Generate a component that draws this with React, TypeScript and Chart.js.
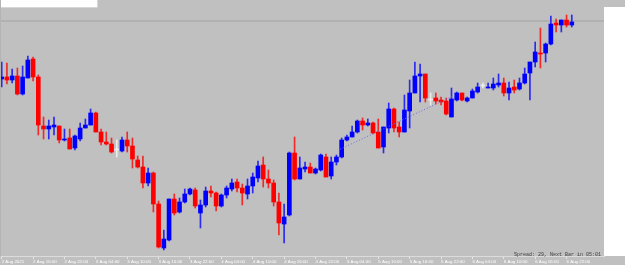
import React, { useEffect, useRef } from "react";
import { Chart, registerables } from "chart.js";

Chart.register(...registerables);

// Hourly bars, first bar = 2 Aug 10:00
const OPEN = [
  109.76, 109.78, 109.75, 109.79, 109.61, 109.77, 109.96, 109.78, 109.29, 109.26,
  109.28, 109.29, 109.15, 109.17, 109.07, 109.16, 109.27, 109.30, 109.42, 109.23,
  109.13, 109.11, 109.05, 109.04, 109.15, 109.09, 108.95, 108.88, 108.72, 108.82,
  108.51, 108.07, 108.15, 108.56, 108.43, 108.53, 108.61, 108.65, 108.42, 108.50,
  108.64, 108.62, 108.49, 108.60, 108.66, 108.73, 108.67, 108.61, 108.69, 108.77,
  108.90, 108.76, 108.72, 108.53, 108.31, 108.40, 109.02, 108.76, 108.86, 108.88,
  108.82, 108.85, 108.98, 108.79, 108.93, 108.98, 109.15, 109.18, 109.23, 109.34,
  109.30, 109.32, 109.23, 109.08, 109.27, 109.46, 109.28, 109.23, 109.44, 109.62,
  109.79, 109.81, 109.55, 109.57, 109.55, 109.54, 109.38, 109.55, 109.62, 109.54,
  109.57, 109.63, 109.69, 109.67, 109.67, 109.70, 109.72, 109.62, 109.68, 109.66,
  109.72, 109.82, 109.93, 110.02, 110.02, 110.11, 110.32, 110.30, 110.35, 110.30,
];
const HIGH = [
  109.93, 109.92, 109.86, 109.87, 109.89, 109.99, 109.98, 109.80, 109.38, 109.35,
  109.38, 109.29, 109.26, 109.26, 109.20, 109.32, 109.36, 109.46, 109.43, 109.26,
  109.23, 109.17, 109.15, 109.18, 109.23, 109.17, 108.99, 108.99, 108.87, 108.83,
  108.54, 108.25, 108.56, 108.61, 108.57, 108.66, 108.67, 108.67, 108.55, 108.68,
  108.69, 108.63, 108.61, 108.69, 108.76, 108.76, 108.71, 108.76, 108.82, 108.94,
  108.98, 108.85, 108.75, 108.62, 108.51, 109.03, 109.18, 108.98, 108.93, 108.92,
  108.87, 109.01, 109.01, 108.98, 109.00, 109.17, 109.20, 109.29, 109.35, 109.37,
  109.36, 109.33, 109.36, 109.28, 109.52, 109.47, 109.33, 109.60, 109.75, 109.93,
  109.91, 109.81, 109.62, 109.62, 109.58, 109.57, 109.67, 109.63, 109.62, 109.58,
  109.66, 109.72, 109.72, 109.72, 109.77, 109.81, 109.77, 109.73, 109.75, 109.77,
  109.87, 109.93, 110.13, 110.27, 110.12, 110.39, 110.36, 110.35, 110.40, 110.40,
];
const LOW = [
  109.68, 109.71, 109.72, 109.60, 109.60, 109.77, 109.74, 109.20, 109.16, 109.16,
  109.20, 109.12, 109.14, 109.06, 109.05, 109.14, 109.27, 109.30, 109.23, 109.10,
  109.10, 109.02, 108.98, 109.03, 109.03, 108.87, 108.87, 108.67, 108.69, 108.43,
  108.07, 108.05, 108.14, 108.40, 108.42, 108.52, 108.60, 108.47, 108.27, 108.48,
  108.58, 108.44, 108.48, 108.57, 108.64, 108.63, 108.50, 108.56, 108.62, 108.73,
  108.68, 108.67, 108.49, 108.20, 108.12, 108.39, 108.75, 108.76, 108.83, 108.82,
  108.81, 108.84, 108.78, 108.76, 108.90, 108.97, 109.14, 109.18, 109.22, 109.25,
  109.29, 109.21, 109.07, 109.02, 109.22, 109.23, 109.18, 109.23, 109.27, 109.62,
  109.53, 109.53, 109.50, 109.51, 109.50, 109.40, 109.38, 109.54, 109.54, 109.53,
  109.57, 109.62, 109.67, 109.67, 109.65, 109.68, 109.59, 109.55, 109.62, 109.65,
  109.71, 109.55, 109.88, 109.87, 109.93, 110.10, 110.23, 110.23, 110.28, 110.28,
];
const CLOSE = [
  109.78, 109.75, 109.79, 109.61, 109.78, 109.95, 109.78, 109.30, 109.26, 109.29,
  109.30, 109.15, 109.16, 109.06, 109.19, 109.27, 109.30, 109.42, 109.23, 109.13,
  109.11, 109.03, 109.05, 109.15, 109.09, 108.96, 108.88, 108.72, 108.82, 108.51,
  108.08, 108.16, 108.56, 108.42, 108.53, 108.61, 108.66, 108.49, 108.50, 108.64,
  108.62, 108.49, 108.60, 108.67, 108.72, 108.67, 108.62, 108.69, 108.78, 108.89,
  108.76, 108.72, 108.53, 108.32, 108.38, 109.02, 108.76, 108.87, 108.88, 108.82,
  108.86, 109.00, 108.78, 108.93, 108.98, 109.15, 109.18, 109.23, 109.34, 109.30,
  109.32, 109.22, 109.07, 109.28, 109.46, 109.27, 109.23, 109.45, 109.62, 109.79,
  109.81, 109.57, 109.55, 109.54, 109.53, 109.41, 109.56, 109.62, 109.55, 109.57,
  109.64, 109.68, 109.69, 109.68, 109.71, 109.72, 109.62, 109.67, 109.65, 109.72,
  109.81, 109.93, 110.03, 110.01, 110.11, 110.31, 110.30, 110.35, 110.30, 110.33,
];

const TICK_LABELS = [
  "2 Aug 2021", "2 Aug 16:00", "2 Aug 22:00", "3 Aug 04:00", "3 Aug 10:00",
  "3 Aug 16:00", "3 Aug 22:00", "4 Aug 04:00", "4 Aug 10:00", "4 Aug 16:00",
  "4 Aug 22:00", "5 Aug 04:00", "5 Aug 10:00", "5 Aug 16:00", "5 Aug 22:00",
  "6 Aug 04:00", "6 Aug 10:00", "6 Aug 16:00", "6 Aug 22:00",
];
const BARS_PER_LABEL = 6;

const BID_PRICE = 110.34;
const TREND_BAR = [64.68, 87.0];
const TREND_PRICE = [109.057, 109.607];
const SPREAD_TEXT = "Spread: 29, Next Bar in 05:01";

const X_MIN = -0.134;
const X_MAX = 115.16;
const Y_MIN = 107.99;
const Y_MAX = 110.55;

const BG = "#c0c0c0";
const BULL = "#0000ff";
const BEAR = "#ff0000";
const DOJI = "#ececec";

export default function App() {
  const ref = useRef<HTMLCanvasElement>(null);

  useEffect(() => {
    document.body.style.margin = "0";
    const idx = OPEN.map((_, i) => i);
    const colors = idx.map((i) =>
      CLOSE[i] > OPEN[i] ? BULL : CLOSE[i] < OPEN[i] ? BEAR : DOJI
    );
    const wickColors = idx.map((i) =>
      CLOSE[i] > OPEN[i] ? "#2a2af0" : CLOSE[i] < OPEN[i] ? "#f02a2a" : DOJI
    );

    const deco = {
      id: "deco",
      beforeDraw(c: any) {
        const ctx = c.ctx;
        const a = c.chartArea;
        ctx.save();
        ctx.fillStyle = BG;
        ctx.fillRect(0, 0, c.width, c.height);
        ctx.fillStyle = "#ffffff";
        ctx.fillRect(a.right, 7, c.width - a.right, a.bottom - 7);
        ctx.fillRect(0, 0, 97, 7);
        ctx.strokeStyle = "#d6d6d6";
        ctx.lineWidth = 1;
        ctx.beginPath();
        ctx.moveTo(97.5, 0);
        ctx.lineTo(97.5, 7.5);
        ctx.lineTo(0, 7.5);
        ctx.stroke();
        ctx.strokeStyle = "#b4b4b4";
        ctx.beginPath();
        ctx.moveTo(0.5, 0);
        ctx.lineTo(0.5, a.bottom);
        ctx.stroke();
        ctx.restore();
      },
      afterDraw(c: any) {
        const ctx = c.ctx;
        ctx.save();
        ctx.font = '5px "Liberation Mono", "DejaVu Sans Mono", monospace';
        ctx.fillStyle = "#3c3c3c";
        ctx.textAlign = "right";
        ctx.textBaseline = "alphabetic";
        ctx.fillText(SPREAD_TEXT, 601, 256);
        ctx.restore();
      },
    };

    const chart = new Chart(ref.current as HTMLCanvasElement, {
      type: "bar",
      data: {
        datasets: [
          {
            type: "line",
            data: TREND_BAR.map((x, k) => ({ x, y: TREND_PRICE[k] })),
            borderColor: "#6e6ee6",
            borderWidth: 1,
            borderDash: [1, 2],
            pointRadius: 0,
            order: 0,
          } as any,
          {
            type: "bar",
            data: idx.map((i) => ({ x: i, y: [OPEN[i], CLOSE[i]] })),
            backgroundColor: colors,
            borderWidth: 0,
            barThickness: 4,
            minBarLength: 1,
            grouped: false,
            order: 1,
          } as any,
          {
            type: "bar",
            data: idx.map((i) => ({ x: i, y: [LOW[i], HIGH[i]] })),
            backgroundColor: wickColors,
            borderWidth: 0,
            barThickness: 1,
            grouped: false,
            order: 2,
          } as any,
          {
            type: "line",
            data: [
              { x: X_MIN, y: BID_PRICE },
              { x: X_MAX, y: BID_PRICE },
            ],
            borderColor: "#a2a2a2",
            borderWidth: 1,
            pointRadius: 0,
            order: 3,
          } as any,
        ],
      },
      options: {
        animation: false,
        responsive: false,
        devicePixelRatio: 1,
        layout: { padding: { left: 1, right: 21, top: 0, bottom: 0 } },
        plugins: { legend: { display: false }, tooltip: { enabled: false } },
        scales: {
          x: {
            type: "linear",
            min: X_MIN,
            max: X_MAX,
            offset: false,
            afterBuildTicks: (scale: any) => {
              scale.ticks = TICK_LABELS.map((_, k) => ({ value: k * BARS_PER_LABEL }));
            },
            afterFit: (scale: any) => {
              scale.height = 9;
            },
            grid: {
              offset: false,
              drawOnChartArea: false,
              drawTicks: true,
              tickLength: 3,
              color: "#e6e6e6",
            },
            border: { display: true, color: "#dcdcdc", width: 1 },
            ticks: {
              autoSkip: false,
              maxRotation: 0,
              minRotation: 0,
              align: "start",
              padding: 0,
              color: "#ffffff",
              font: { size: 4.4, family: '"Liberation Sans", Arial, sans-serif' },
              callback: (v: any) => TICK_LABELS[Math.round(Number(v) / BARS_PER_LABEL)],
            },
          },
          y: {
            type: "linear",
            display: false,
            min: Y_MIN,
            max: Y_MAX,
          },
        },
      } as any,
      plugins: [deco],
    });
    return () => chart.destroy();
  }, []);

  return <canvas ref={ref} width={625} height={265} style={{ display: "block" }} />;
}
